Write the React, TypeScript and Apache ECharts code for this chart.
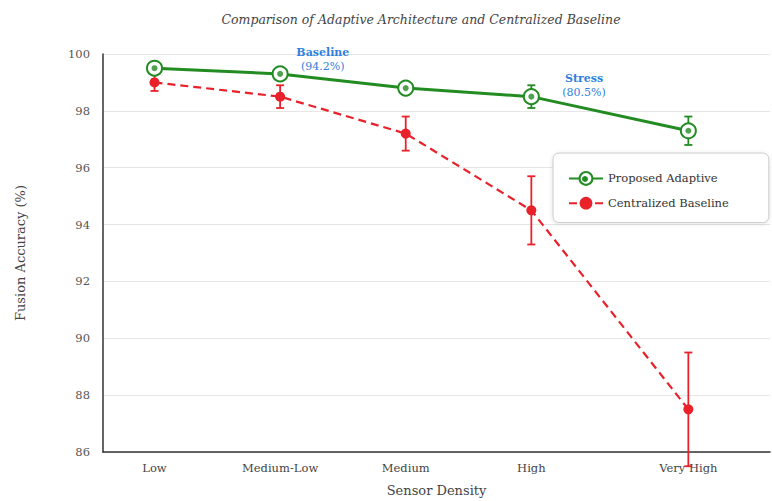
import React, { useEffect, useRef } from "react";
import * as echarts from "echarts";

const categories = ["Low", "Medium-Low", "Medium", "High", "Very High"];
const categoryPositions = [0, 1, 2, 3, 4.25];
const adaptiveValues = [99.5, 99.3, 98.8, 98.5, 97.3];
const adaptiveErrors = [0.1, 0.15, 0.2, 0.4, 0.5];
const baselineValues = [99.0, 98.5, 97.2, 94.5, 87.5];
const baselineErrors = [0.3, 0.4, 0.6, 1.2, 2.0];
const yTicks = { min: 86, max: 100, interval: 2 };
const annotations = [
  { title: "Baseline", value: "(94.2%)", x: 1.34, y: 99.82 },
  { title: "Stress", value: "(80.5%)", x: 3.42, y: 98.88 },
];

const GREEN = "#228b22";
const RED = "#e8212a";
const BLUE = "#2f7fe0";
const FONT = "'DejaVu Serif', Georgia, serif";

function errorSeries(values: number[], errors: number[], color: string, z: number) {
  return {
    type: "custom",
    z,
    silent: true,
    clip: false,
    data: values.map((v, i) => [categoryPositions[i], v - errors[i], v + errors[i]]),
    renderItem: (params: any, api: any) => {
      const lo = api.coord([api.value(0), api.value(1)]);
      const hi = api.coord([api.value(0), api.value(2)]);
      const cap = 4;
      const style = { stroke: color, lineWidth: 1.8 };
      return {
        type: "group",
        children: [
          { type: "line", shape: { x1: lo[0], y1: lo[1], x2: hi[0], y2: hi[1] }, style },
          { type: "line", shape: { x1: lo[0] - cap, y1: lo[1], x2: lo[0] + cap, y2: lo[1] }, style },
          { type: "line", shape: { x1: hi[0] - cap, y1: hi[1], x2: hi[0] + cap, y2: hi[1] }, style },
        ],
      };
    },
  };
}

export default function App() {
  const ref = useRef<HTMLDivElement>(null);
  useEffect(() => {
    if (!ref.current) return;
    const chart = echarts.init(ref.current, undefined, { renderer: "svg" });
    const adaptivePts = adaptiveValues.map((v, i) => [categoryPositions[i], v]);
    const baselinePts = baselineValues.map((v, i) => [categoryPositions[i], v]);
    chart.setOption({
      animation: false,
      backgroundColor: "#ffffff",
      textStyle: { fontFamily: FONT },
      title: {
        text: "Comparison of Adaptive Architecture and Centralized Baseline",
        left: 416,
        textAlign: "center",
        top: 8,
        textStyle: { fontFamily: FONT, fontStyle: "italic", fontWeight: "normal", fontSize: 12.5, color: "#444" },
      },
      grid: { left: 103, right: 2, top: 54, bottom: 49, outerBoundsMode: "none", containLabel: false },
      xAxis: {
        type: "value",
        min: -0.41,
        max: 4.9,
        name: "Sensor Density",
        nameLocation: "middle",
        nameGap: 32,
        nameTextStyle: { fontFamily: FONT, fontSize: 13, color: "#444" },
        axisLine: { show: true, onZero: false, lineStyle: { color: "#333", width: 1.5 } },
        axisTick: { show: false },
        splitLine: { show: false },
        axisLabel: {
          customValues: categoryPositions,
          margin: 10,
          fontFamily: FONT,
          fontSize: 11.5,
          color: "#444",
          formatter: (val: number) => {
            const idx = categoryPositions.findIndex((p) => Math.abs(p - val) < 1e-6);
            return idx >= 0 ? categories[idx] : "";
          },
        },
      },
      yAxis: {
        type: "value",
        min: yTicks.min,
        max: yTicks.max,
        interval: yTicks.interval,
        name: "Fusion Accuracy (%)",
        nameLocation: "middle",
        nameGap: 76,
        nameTextStyle: { fontFamily: FONT, fontSize: 13, color: "#444" },
        axisLine: { show: true, onZero: false, lineStyle: { color: "#333", width: 1.5 } },
        axisTick: { show: false },
        axisLabel: { margin: 13, fontFamily: FONT, fontSize: 11.5, color: "#555" },
        splitLine: { show: true, lineStyle: { color: "#e6e6e6", width: 1 } },
      },
      legend: {
        orient: "vertical",
        left: 553,
        top: 153,
        data: ["Proposed Adaptive", "Centralized Baseline"],
        itemWidth: 34,
        itemHeight: 16,
        itemGap: 11,
        padding: [18, 40, 13, 15],
        backgroundColor: "#fff",
        borderColor: "#cccccc",
        borderWidth: 1,
        borderRadius: 6,
        shadowColor: "rgba(0,0,0,0.12)",
        shadowBlur: 4,
        shadowOffsetY: 1,
        textStyle: { fontFamily: FONT, fontSize: 11.5, color: "#333" },
      },
      graphic: [
        { type: "circle", z: 200, shape: { cx: 585, cy: 179, r: 3 }, style: { fill: GREEN } },
      ],
      series: [
        errorSeries(baselineValues, baselineErrors, RED, 2),
        errorSeries(adaptiveValues, adaptiveErrors, GREEN, 2),
        {
          name: "Centralized Baseline",
          type: "line",
          z: 3,
          data: baselinePts,
          symbol: "circle",
          symbolSize: 10,
          itemStyle: { color: RED },
          lineStyle: { color: RED, width: 2.2, type: [8, 5] },
        },
        {
          name: "Proposed Adaptive",
          type: "line",
          z: 4,
          data: adaptivePts,
          symbol: "emptyCircle",
          symbolSize: 15,
          itemStyle: { color: GREEN, borderColor: GREEN, borderWidth: 2.5 },
          lineStyle: { color: GREEN, width: 3 },
          markPoint: {
            symbol: "circle",
            symbolSize: 0,
            silent: true,
            data: annotations.map((a) => ({
              coord: [a.x, a.y],
              label: {
                show: true,
                position: "inside",
                formatter: `{t|${a.title}}\n{v|${a.value}}`,
                rich: {
                  t: { fontFamily: FONT, fontWeight: "bold", fontSize: 11, color: BLUE, align: "center", lineHeight: 14 },
                  v: { fontFamily: FONT, fontSize: 11, color: BLUE, align: "center", lineHeight: 14 },
                },
              },
            })),
          },
        },
        {
          name: "adaptive-dot",
          type: "scatter",
          z: 5,
          silent: true,
          data: adaptivePts,
          symbol: "circle",
          symbolSize: 6,
          itemStyle: { color: GREEN },
        },
      ],
    });
    return () => chart.dispose();
  }, []);
  return <div ref={ref} style={{ position: "fixed", left: 0, top: 0, width: 772, height: 501 }} />;
}
